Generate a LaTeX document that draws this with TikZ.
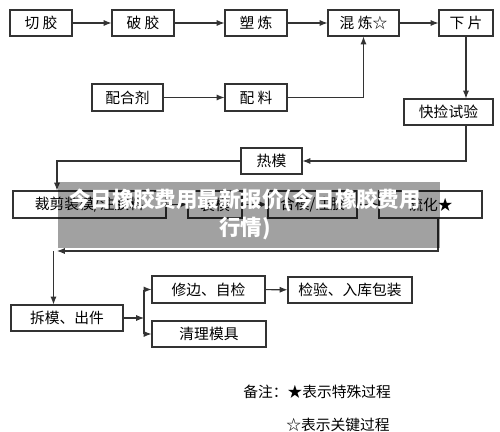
\documentclass[tikz,border=0pt]{standalone}
\usepackage{fontspec}
\setmainfont{Noto Sans CJK SC}
\usepackage{tikz}
\usetikzlibrary{arrows.meta}

\tikzset{
  box/.style={draw=black!80, line width=0.6pt, minimum height=0.52cm, inner sep=0pt, font=\fontsize{8.4}{10}\selectfont},
  arr/.style={draw=black!80, line width=0.6pt, -{Latex[length=4.5pt,width=3.5pt]}},
  line/.style={draw=black!80, line width=0.6pt}
}

\begin{document}
\begin{tikzpicture}[x=0.02cm, y=-0.02cm]

\useasboundingbox (0,0) rectangle (500,432);

% draw first row
\node[box, minimum width=1.24cm] (qiejiao) at (41,23) {切\ 胶};
\node[box, minimum width=1.24cm] (pojiao) at (143,23) {破\ 胶};
\node[box, minimum width=1.24cm] (sulian) at (256,23) {塑\ 炼};
\node[box, minimum width=1.42cm] (hunlian) at (363.5,23) {混\ 炼☆};
\node[box, minimum width=1.08cm] (xiapian) at (466,23) {下\ 片};

% draw mixing agents
\node[box, minimum width=1.42cm, minimum height=0.54cm] (peiheji) at (127.5,97.5) {配合剂};
\node[box, minimum width=1.24cm, minimum height=0.54cm] (peiliao) at (256,97.5) {配\ 料};
\node[box, minimum width=1.78cm] (kuaijian) at (448.5,112) {快捡试验};
\node[box, minimum width=1.22cm] (remo) at (271.5,161) {热模};

% draw moulding row
\node[box, minimum width=3.06cm, minimum height=0.54cm] (caijian) at (89.5,204.5) {裁剪装模/注胶料};
\node[box, minimum width=1.08cm, minimum height=0.54cm] (zhuangmo) at (215,204.5) {装模};
\node[box, minimum width=1.78cm, minimum height=0.54cm] (hemo) at (312.5,204.5) {合模/注胶};
\node[box, minimum width=2.06cm, minimum height=0.54cm] (liuhua) at (430.5,204.5) {硫化★};

% draw finishing
\node[box, minimum width=2.24cm] (caimo) at (67,318) {拆模、出件};
\node[box, minimum width=2.26cm, minimum height=0.54cm] (xiubian) at (208.5,289.5) {修边、自检};
\node[box, minimum width=2.28cm] (qingli) at (209,334) {清理模具};
\node[box, minimum width=2.48cm] (jianyan) at (350,290) {检验、入库包装};

\coordinate (lft) at (57,251);
\coordinate (turn) at (438,251);
\coordinate (fork) at (144,318);

% draw arrows
\draw[arr] (qiejiao) -- (pojiao);
\draw[arr] (pojiao) -- (sulian);
\draw[arr] (sulian) -- (hunlian);
\draw[arr] (hunlian) -- (xiapian);
\draw[arr] (peiheji) -- (peiliao);
\draw[arr] (peiliao.east) -| (hunlian.south);
\draw[arr] (xiapian.south) -- (xiapian.south |- kuaijian.north);
\draw[arr] (xiapian.south |- kuaijian.south) |- (remo.east);
\draw[arr] (remo.west) -| (lft |- caijian.north);
\draw[arr] (caijian) -- (zhuangmo);
\draw[arr] (zhuangmo) -- (hemo);
\draw[arr] (hemo) -- (liuhua);
\draw[arr] (turn |- liuhua.south) -- (turn) -- (lft);
\draw[arr] ([xshift=-2]lft) -- ([xshift=-2]lft |- caimo.north);
\draw[arr] (caimo.east) -- (fork);
\draw[line] (fork |- xiubian) -- (fork |- qingli);
\draw[arr] (fork |- xiubian) -- (xiubian.west);
\draw[arr] (fork |- qingli) -- (qingli.west);
\draw[arr] (xiubian) -- (jianyan);

% draw notes
\node[anchor=west, inner sep=0pt, font=\fontsize{8.4}{10}\selectfont] (note1) at (243,392) {备注：★表示特殊过程};
\node[anchor=west, inner sep=0pt, font=\fontsize{8.4}{10}\selectfont] (note2) at (286,425) {☆表示关键过程};

% draw banner
\fill[black, fill opacity=0.37] (58,182) rectangle (440,248);
\node[text=white, align=center, font=\fontsize{12.2}{16}\selectfont\bfseries] (banner) at (245,214) {今日橡胶费用最新报价(今日橡胶费用\\行情)};

\end{tikzpicture}
\end{document}
